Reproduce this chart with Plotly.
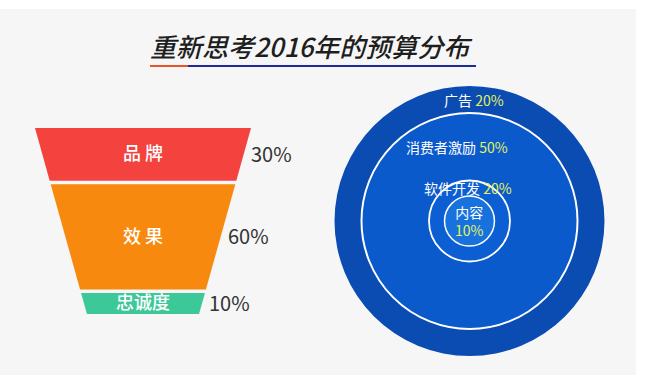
import plotly.graph_objects as go

# ---------------- data ----------------
title_text = "重新思考2016年的预算分布"

funnel_labels = ["品 牌", "效 果", "忠诚度"]
funnel_values = [30, 60, 10]
funnel_pct = ["30%", "60%", "10%"]

circle_labels = ["内容", "软件开发", "消费者激励", "广告"]   # inside -> outside
circle_values = [10, 20, 50, 20]
circle_pct = ["10%", "20%", "50%", "20%"]

# ---------------- style ----------------
W, H = 645, 375
FONT = "Noto Sans CJK SC"
funnel_colors = ["#f4423f", "#f7890f", "#3dc89a"]
circle_fills = ["#1872de", "#0c5fd2", "#0b5acb", "#0b4cb3"]   # inside -> outside
circle_lines = [1.5, 1.8, 2, 0]
circle_xshift = [0, -2, -13, 4]
PCT_COLOR = "#e2f25a"

GAP = 2.0          # gap between funnel segments (value units)
MIN_H = 12         # minimal segment height (value units)
HALF_TOP = 108     # half width of funnel top (x units)
TAPER = 0.49       # half-width reduction per value unit
MIN_R = 18.5       # minimal radius of innermost circle (value units)

fig = go.Figure()
annotations = []
shapes = []

# background panel
shapes.append(dict(type="rect", xref="paper", yref="paper", x0=0, x1=636 / W, y0=0, y1=(H - 9) / H,
                   fillcolor="#f6f6f6", line=dict(width=0), layer="below"))

# ---------------- funnel ----------------
def hw(t):
    return HALF_TOP - TAPER * t

t = 0.0
for lab, v, pct, col in zip(funnel_labels, funnel_values, funnel_pct, funnel_colors):
    y0, y1 = t, t + max(v, MIN_H)
    fig.add_trace(go.Scatter(
        x=[-hw(y0), hw(y0), hw(y1), -hw(y1), -hw(y0)],
        y=[y0, y0, y1, y1, y0],
        fill="toself", fillcolor=col, mode="lines", line=dict(width=0, color=col),
        hoverinfo="skip", showlegend=False, xaxis="x", yaxis="y"))
    ym = (y0 + y1) / 2
    annotations.append(dict(x=0, y=ym, xref="x", yref="y", text=lab, showarrow=False,
                            font=dict(family=FONT, size=18, color="white", weight=500),
                            xanchor="center", yanchor="middle", yshift=2))
    annotations.append(dict(x=hw(ym) + 5, y=ym, xref="x", yref="y", text=pct, showarrow=False,
                            font=dict(family=FONT, size=20, color="#333333"),
                            xanchor="left", yanchor="middle", yshift=1))
    t = y1 + GAP
funnel_total = t - GAP

# ---------------- nested circles ----------------
cum = []
s = 0
for v in circle_values:
    s += v
    cum.append(s)
radii = [max(c, MIN_R) for c in cum]

for i in range(len(circle_values) - 1, -1, -1):
    r = radii[i]
    lw = circle_lines[i]
    shapes.append(dict(type="circle", xref="x2", yref="y2", x0=-r, x1=r, y0=-r, y1=r,
                       fillcolor=circle_fills[i],
                       line=dict(color="white", width=lw) if lw > 0 else dict(width=0)))

for i, (lab, pct) in enumerate(zip(circle_labels, circle_pct)):
    if i == 0:
        txt = f"{lab}<br><span style='color:{PCT_COLOR}'>{pct}</span>"
        y = 0
    else:
        txt = f"{lab} <span style='color:{PCT_COLOR}'>{pct}</span>"
        y = (radii[i - 1] + radii[i]) / 2
    annotations.append(dict(x=0, y=y, xref="x2", yref="y2", text=txt, showarrow=False,
                            font=dict(family=FONT, size=14, color="white"),
                            xanchor="center", yanchor="middle", xshift=circle_xshift[i]))

# ---------------- title ----------------
annotations.append(dict(x=311.5 / W, y=(H - 45) / H, xref="paper", yref="paper", text=title_text,
                        showarrow=False, xanchor="center", yanchor="middle",
                        font=dict(family=FONT, size=26, color="#1e1e1e", style="italic", weight=500)))
shapes.append(dict(type="line", xref="paper", yref="paper", x0=150 / W, x1=188 / W,
                   y0=(H - 66) / H, y1=(H - 66) / H, line=dict(color="#e8542a", width=2)))
shapes.append(dict(type="line", xref="paper", yref="paper", x0=188 / W, x1=476 / W,
                   y0=(H - 66) / H, y1=(H - 66) / H, line=dict(color="#1c2a9c", width=2)))

CR = 150 / 1.35
cx, cy = 469.5, H - 221
ax_hidden = dict(visible=False, showgrid=False, zeroline=False, fixedrange=True)
fig.update_layout(
    width=W, height=H, margin=dict(l=0, r=0, t=0, b=0),
    paper_bgcolor="white", plot_bgcolor="rgba(0,0,0,0)",
    showlegend=False,
    xaxis=dict(domain=[0, 290 / W], range=[-143, 147], anchor="y", **ax_hidden),
    yaxis=dict(domain=[(H - 314) / H, (H - 128) / H], range=[funnel_total, 0], anchor="x", **ax_hidden),
    xaxis2=dict(domain=[(cx - 150) / W, (cx + 150) / W], range=[-CR, CR], anchor="y2", **ax_hidden),
    yaxis2=dict(domain=[(cy - 150) / H, (cy + 150) / H], range=[-CR, CR], anchor="x2", **ax_hidden),
    shapes=shapes, annotations=annotations,
)

fig.write_html("out.html", config={"displayModeBar": False, "staticPlot": True},
               post_script="document.body.style.margin='0';document.body.style.overflow='hidden';")
